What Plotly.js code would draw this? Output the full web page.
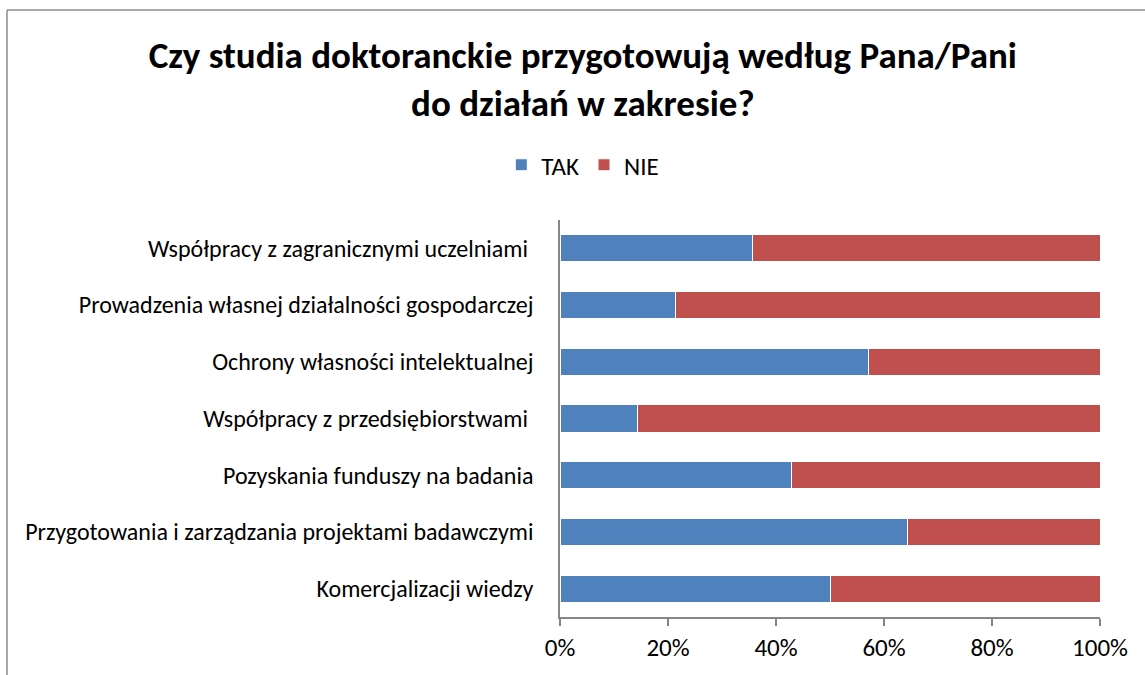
<!DOCTYPE html>
<html>
<head>
<meta charset="utf-8">
<script src="https://cdn.plot.ly/plotly-3.0.1.min.js"></script>
<style>html,body{margin:0;padding:0;background:#fff;}#chart{width:1145px;height:675px;}</style>
</head>
<body>
<div id="chart"></div>
<script>
const categories = [
  "Współpracy z zagranicznymi uczelniami ",
  "Prowadzenia własnej działalności gospodarczej",
  "Ochrony własności intelektualnej",
  "Współpracy z przedsiębiorstwami ",
  "Pozyskania funduszy na badania",
  "Przygotowania i zarządzania projektami badawczymi",
  "Komercjalizacji wiedzy"
];
const takValues = [35.7, 21.4, 57.1, 14.3, 42.9, 64.3, 50.0];
const nieValues = [64.3, 78.6, 42.9, 85.7, 57.1, 35.7, 50.0];
const xTickVals = [0, 20, 40, 60, 80, 100];
const xTickText = ["0%", "20%", "40%", "60%", "80%", "100%"];

const FONT = "Carlito, Lato, 'Open Sans', sans-serif";

const traces = [
  {type: "bar", orientation: "h", name: "TAK", y: categories, x: takValues,
   marker: {color: "#4F81BD", line: {color: "#ffffff", width: 1}}, hoverinfo: "x+y"},
  {type: "bar", orientation: "h", name: "NIE", y: categories, x: nieValues,
   marker: {color: "#C0504D", line: {color: "#ffffff", width: 1}}, hoverinfo: "x+y"}
];

const layout = {
  width: 1145, height: 675,
  barmode: "stack",
  bargap: 0.52,
  paper_bgcolor: "#ffffff",
  plot_bgcolor: "#ffffff",
  font: {family: FONT, color: "#000000", size: 24},
  margin: {l: 560, r: 45, t: 220, b: 58, pad: 0},
  title: {
    text: "<b>Czy studia doktoranckie przygotowują według Pana/Pani<br>do działań w zakresie?</b>",
    font: {family: FONT, size: 37, color: "#000000"},
    x: 0.509, xanchor: "center",
    yref: "container", y: 0.9, yanchor: "middle"
  },
  showlegend: true,
  legend: {
    orientation: "h",
    xref: "container", x: 0.509, xanchor: "center",
    yref: "container", y: 1 - 165/675, yanchor: "middle",
    font: {family: FONT, size: 25, color: "#000000"},
    itemwidth: 30, traceorder: "normal"
  },
  xaxis: {
    range: [0, 100],
    tickvals: xTickVals, ticktext: xTickText,
    showgrid: false, zeroline: false,
    showline: true, linecolor: "#868686", linewidth: 1.5,
    ticks: "outside", ticklen: 7, tickcolor: "#868686", tickwidth: 1.5,
    tickfont: {family: FONT, size: 25, color: "#000000"},
    fixedrange: true
  },
  yaxis: {
    type: "category",
    autorange: "reversed",
    showgrid: false, zeroline: false,
    showline: true, linecolor: "#868686", linewidth: 1.5,
    ticks: "", ticklabelstandoff: 20,
    tickfont: {family: FONT, size: 24, color: "#000000"},
    fixedrange: true
  },
  shapes: [
    {type: "line", xref: "paper", yref: "paper", x0: -553/540, x1: 585/540, y0: 1 + 210/397, y1: 1 + 210/397,
     line: {color: "#8c8c8c", width: 1.5}},
    {type: "line", xref: "paper", yref: "paper", x0: -553/540, x1: -553/540, y0: 1 + 210/397, y1: -60/397,
     line: {color: "#8c8c8c", width: 1.5}}
  ]
};

Plotly.newPlot("chart", traces, layout, {displayModeBar: false});
</script>
</body>
</html>
